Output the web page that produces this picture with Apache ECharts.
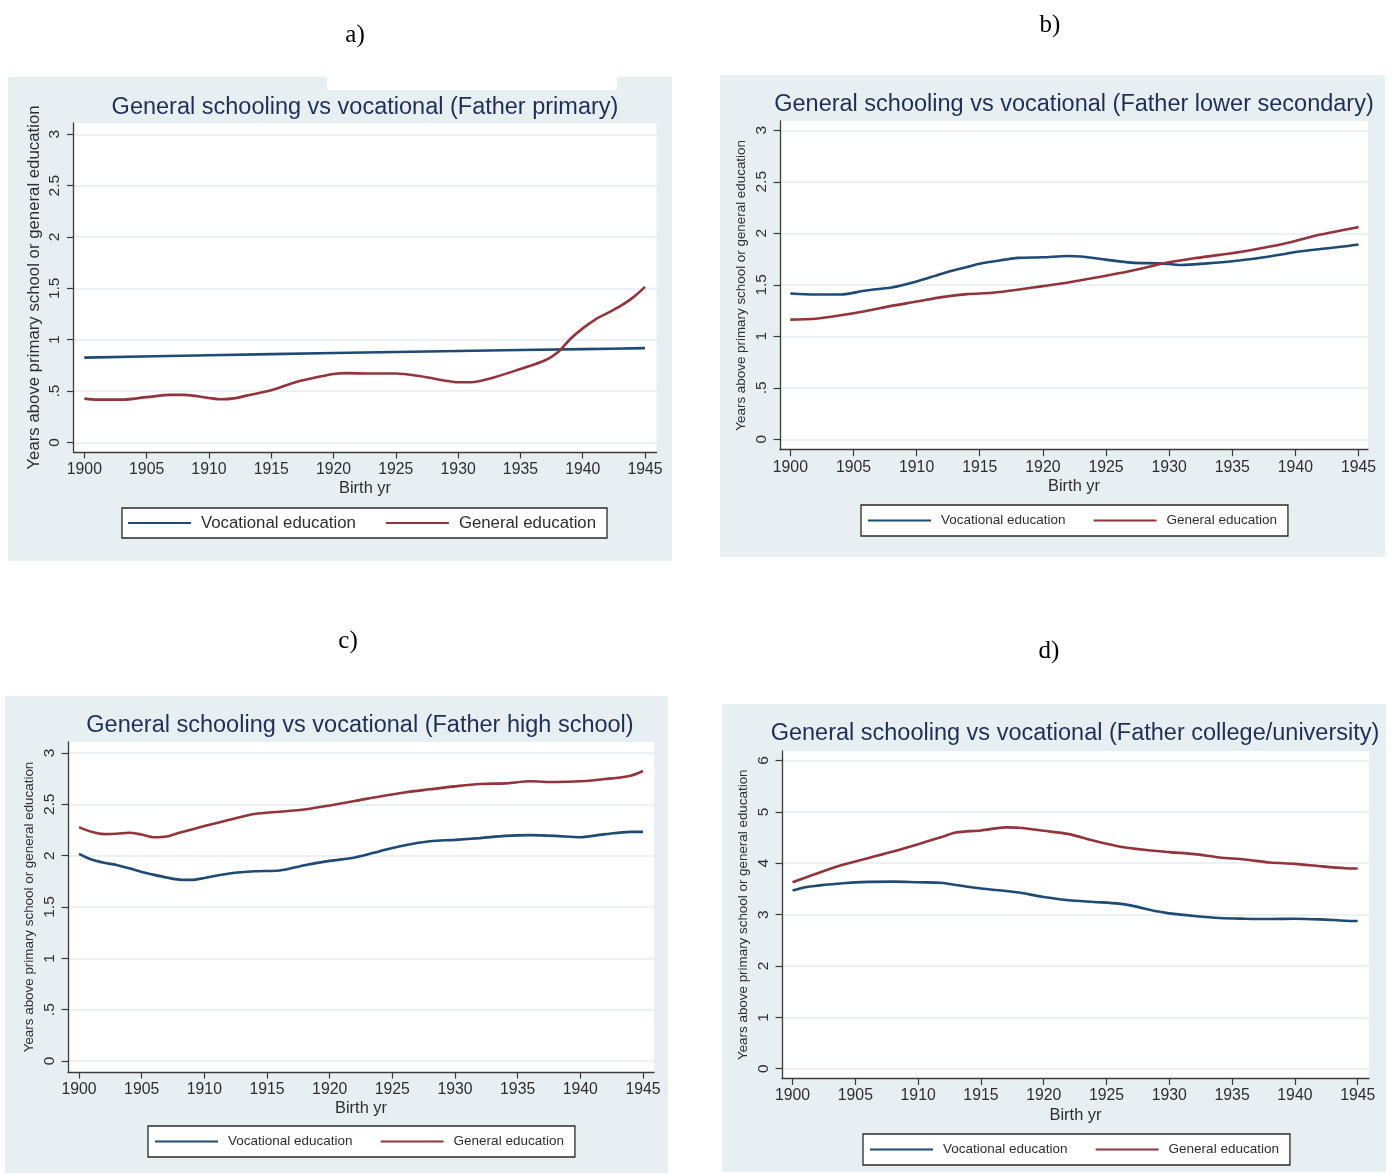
<!DOCTYPE html>
<html>
<head>
<meta charset="utf-8">
<title>General schooling vs vocational</title>
<script src="https://cdn.jsdelivr.net/npm/echarts@6/dist/echarts.min.js"></script>
<style>
  html, body { margin: 0; padding: 0; background: #ffffff; }
  #chart { width: 1399px; height: 1174px; }
</style>
</head>
<body>
<div id="chart"></div>
<script>
// ---- Text ----
const panelLabels = ['a)', 'b)', 'c)', 'd)'];
const panelTitles = [
  'General schooling vs vocational (Father primary)',
  'General schooling vs vocational (Father lower secondary)',
  'General schooling vs vocational (Father high school)',
  'General schooling vs vocational (Father college/university)'
];
const seriesNames = ['Vocational education', 'General education'];
const xAxisTitle = 'Birth yr';
const yAxisTitle = 'Years above primary school or general education';

// ---- Tick values ----
const yearTicks = [1900, 1905, 1910, 1915, 1920, 1925, 1930, 1935, 1940, 1945];
const yTicksHalf = [0, 0.5, 1, 1.5, 2, 2.5, 3];
const yTicksWhole = [0, 1, 2, 3, 4, 5, 6];

// ---- a) Father primary ----
const vocYearsA = [1900, 1910, 1920, 1930, 1940, 1945];
const vocA      = [0.825, 0.848, 0.870, 0.890, 0.908, 0.918];
const genYearsA = [1900, 1901, 1903, 1905, 1907, 1908, 1910, 1911, 1912, 1913, 1915, 1917, 1919, 1920, 1921, 1923, 1925, 1927, 1929, 1930, 1931, 1933, 1935, 1937, 1938, 1939, 1940, 1941, 1942, 1943, 1944, 1945];
const genA      = [0.426, 0.416, 0.416, 0.440, 0.462, 0.462, 0.432, 0.420, 0.428, 0.455, 0.507, 0.588, 0.643, 0.666, 0.674, 0.670, 0.670, 0.643, 0.600, 0.585, 0.585, 0.637, 0.715, 0.800, 0.877, 1.007, 1.110, 1.196, 1.260, 1.326, 1.407, 1.514];

// ---- b) Father lower secondary ----
const vocYearsB = [1900, 1902, 1904, 1906, 1908, 1910, 1912, 1914, 1915, 1917, 1918, 1920, 1922, 1923, 1925, 1927, 1929, 1930, 1931, 1933, 1935, 1937, 1939, 1940, 1942, 1944, 1945];
const vocB      = [1.416, 1.406, 1.406, 1.445, 1.474, 1.533, 1.608, 1.673, 1.705, 1.744, 1.761, 1.767, 1.780, 1.774, 1.744, 1.715, 1.708, 1.702, 1.692, 1.708, 1.728, 1.757, 1.796, 1.819, 1.848, 1.874, 1.891];
const genYearsB = [1900, 1902, 1904, 1906, 1908, 1910, 1912, 1914, 1916, 1918, 1920, 1922, 1924, 1926, 1928, 1930, 1932, 1934, 1936, 1938, 1940, 1942, 1944, 1945];
const genB      = [1.162, 1.171, 1.204, 1.246, 1.295, 1.337, 1.380, 1.409, 1.422, 1.451, 1.487, 1.523, 1.565, 1.611, 1.663, 1.718, 1.757, 1.790, 1.826, 1.871, 1.926, 1.988, 2.037, 2.060];

// ---- c) Father high school ----
const vocYearsC = [1900, 1901, 1902, 1903, 1904, 1905, 1906, 1907, 1908, 1909, 1910, 1912, 1914, 1916, 1918, 1920, 1922, 1924, 1926, 1928, 1930, 1932, 1934, 1936, 1938, 1940, 1942, 1944, 1945];
const vocC      = [2.018, 1.962, 1.930, 1.910, 1.877, 1.842, 1.813, 1.787, 1.767, 1.764, 1.783, 1.826, 1.848, 1.855, 1.907, 1.949, 1.982, 2.044, 2.102, 2.141, 2.154, 2.171, 2.193, 2.200, 2.193, 2.180, 2.210, 2.232, 2.232];
const genYearsC = [1900, 1901, 1902, 1903, 1904, 1905, 1906, 1907, 1908, 1910, 1912, 1914, 1916, 1918, 1920, 1922, 1924, 1926, 1928, 1930, 1932, 1934, 1936, 1938, 1940, 1942, 1944, 1945];
const genC      = [2.278, 2.232, 2.210, 2.213, 2.223, 2.206, 2.180, 2.187, 2.223, 2.288, 2.349, 2.405, 2.428, 2.450, 2.489, 2.532, 2.577, 2.616, 2.646, 2.675, 2.698, 2.704, 2.724, 2.717, 2.724, 2.746, 2.779, 2.825];

// ---- d) Father college/university ----
const vocYearsD = [1900, 1901, 1902, 1904, 1906, 1908, 1910, 1912, 1913, 1915, 1917, 1918, 1920, 1922, 1924, 1926, 1927, 1929, 1930, 1932, 1934, 1936, 1938, 1940, 1942, 1944, 1945];
const vocD      = [3.468, 3.533, 3.565, 3.611, 3.637, 3.643, 3.630, 3.617, 3.578, 3.507, 3.461, 3.429, 3.344, 3.279, 3.247, 3.214, 3.175, 3.064, 3.025, 2.973, 2.934, 2.921, 2.915, 2.921, 2.908, 2.882, 2.876];
const genYearsD = [1900, 1902, 1904, 1906, 1908, 1910, 1912, 1913, 1915, 1917, 1918, 1920, 1922, 1924, 1926, 1928, 1930, 1932, 1934, 1936, 1938, 1940, 1942, 1944, 1945];
const genD      = [3.630, 3.806, 3.969, 4.099, 4.229, 4.372, 4.522, 4.600, 4.639, 4.698, 4.691, 4.632, 4.567, 4.437, 4.327, 4.262, 4.216, 4.177, 4.112, 4.073, 4.014, 3.988, 3.943, 3.904, 3.897];

// ---- Styling ----
const panelBg = '#e8eff3';
const gridLineColor = '#e6edf1';
const axisColor = '#3a3a3a';
const textColor = '#2e2e2e';
const titleColor = '#1f2e55';
const vocColor = '#1f4a74';
const genColor = '#93343c';
const sansFont = '"Liberation Sans", Arial, sans-serif';
const serifFont = '"Liberation Serif", "Times New Roman", serif';

// Panel geometry: outer box, plot box (pixel edges), axis extents, text anchors
const panels = [
  { box: [8, 77, 664, 484], plot: { l: 73.5, t: 123, r: 656.5, b: 452 },
    xr: [1899.13, 1945.92], yr: [-0.094, 3.11], yTicks: yTicksHalf,
    title: [365, 108], label: [355, 35], legend: [122, 508], big: true },
  { box: [720, 75, 665, 482], plot: { l: 780, t: 121, r: 1368, b: 449.7 },
    xr: [1899.18, 1945.75], yr: [-0.101, 3.09], yTicks: yTicksHalf,
    title: [1074, 105], label: [1050, 25], legend: [861, 505], big: false },
  { box: [5, 696, 663, 477], plot: { l: 68, t: 742, r: 654, b: 1072 },
    xr: [1899.12, 1945.88], yr: [-0.107, 3.107], yTicks: yTicksHalf,
    title: [360, 726], label: [348, 641], legend: [148, 1126], big: false },
  { box: [722, 704, 664, 468], plot: { l: 782, t: 751, r: 1369, b: 1078.5 },
    xr: [1899.16, 1945.9], yr: [-0.19, 6.185], yTicks: yTicksWhole,
    title: [1075, 734], label: [1049, 651], legend: [863, 1134], big: false }
];

const seriesData = [
  [[vocYearsA, vocA], [genYearsA, genA]],
  [[vocYearsB, vocB], [genYearsB, genB]],
  [[vocYearsC, vocC], [genYearsC, genC]],
  [[vocYearsD, vocD], [genYearsD, genD]]
];

function zip(xs, ys) { return xs.map((x, i) => [x, ys[i]]); }
function tickText(v) {
  if (v === 0) return '0';
  return String(v).replace(/^0\./, '.');
}

const W = 1399, H = 1174;
const grids = [], xAxes = [], yAxes = [], series = [], legends = [], graphics = [];

panels.forEach((p, i) => {
  // outer panel background
  graphics.push({ type: 'rect', z: -10, silent: true,
    shape: { x: p.box[0], y: p.box[1], width: p.box[2], height: p.box[3] },
    style: { fill: panelBg } });

  grids.push({
    left: p.plot.l, top: p.plot.t,
    width: p.plot.r - p.plot.l, height: p.plot.b - p.plot.t,
    show: true, backgroundColor: '#ffffff', borderWidth: 0,
    containLabel: false, outerBoundsMode: 'none'
  });

  xAxes.push({
    type: 'value', gridIndex: i, min: p.xr[0], max: p.xr[1],
    name: xAxisTitle, nameLocation: 'middle', nameGap: 28.5, nameMoveOverlap: false,
    nameTextStyle: { fontFamily: sansFont, fontSize: 16.4, color: textColor },
    axisLine: { show: true, onZero: false, lineStyle: { color: axisColor, width: 1.3 } },
    axisTick: { show: true, length: 6.5, customValues: yearTicks, lineStyle: { color: axisColor, width: 1.2 } },
    axisLabel: { show: true, customValues: yearTicks, margin: 9.5, formatter: v => String(v),
      fontFamily: sansFont, fontSize: 15.8, color: textColor },
    splitLine: { show: false }
  });

  yAxes.push({
    type: 'value', gridIndex: i, min: p.yr[0], max: p.yr[1],
    name: yAxisTitle, nameLocation: 'middle', nameRotate: 90, nameMoveOverlap: false,
    nameGap: p.big ? 31 : 32,
    nameTextStyle: { fontFamily: sansFont, fontSize: p.big ? 16.8 : 13.4, color: textColor },
    axisLine: { show: true, onZero: false, lineStyle: { color: axisColor, width: 1.3 } },
    axisTick: { show: true, length: 6.5, customValues: p.yTicks, lineStyle: { color: axisColor, width: 1.2 } },
    axisLabel: { show: true, customValues: p.yTicks, rotate: 90, margin: 10.5, formatter: tickText,
      fontFamily: sansFont, fontSize: 15.5, color: textColor },
    splitLine: { show: true, lineStyle: { color: gridLineColor, width: 1.5 } }
  });

  seriesData[i].forEach((pair, k) => {
    series.push({
      type: 'line', name: seriesNames[k], xAxisIndex: i, yAxisIndex: i,
      data: zip(pair[0], pair[1]),
      showSymbol: false, smooth: 0.3, silent: true,
      lineStyle: { color: k === 0 ? vocColor : genColor, width: 2.6 },
      itemStyle: { color: k === 0 ? vocColor : genColor },
      emphasis: { disabled: true }
    });
  });

  const fs = p.big ? 16.8 : 13.5;
  legends.push({
    left: p.legend[0], top: p.legend[1],
    orient: 'horizontal', data: seriesNames, selectedMode: false,
    icon: 'rect', itemWidth: 63, itemHeight: 2, itemGap: p.big ? 30 : 28,
    backgroundColor: '#ffffff', borderColor: '#2a2a2a', borderWidth: 1.3, borderRadius: 0,
    padding: p.big ? [6.5, 11, 6.5, 6] : [8.5, 11, 8.5, 7],
    textStyle: { fontFamily: sansFont, fontSize: fs, color: textColor, padding: [0, 0, 0, 5] }
  });

  // title and panel label
  graphics.push({ type: 'text', z: 10, silent: true,
    x: p.title[0], y: p.title[1],
    style: { text: panelTitles[i], font: '23.5px ' + sansFont, fill: titleColor,
      textAlign: 'center', textVerticalAlign: 'middle' } });
  graphics.push({ type: 'text', z: 10, silent: true,
    x: p.label[0], y: p.label[1],
    style: { text: panelLabels[i], font: '25px ' + serifFont, fill: '#000000',
      textAlign: 'center', textVerticalAlign: 'middle' } });
});

// white notch along the top edge of panel a
graphics.push({ type: 'rect', z: -9, silent: true,
  shape: { x: 327, y: 77, width: 290, height: 13 }, style: { fill: '#ffffff' } });

const chart = echarts.init(document.getElementById('chart'), null, { renderer: 'canvas', width: W, height: H });
chart.setOption({
  animation: false,
  backgroundColor: '#ffffff',
  grid: grids,
  xAxis: xAxes,
  yAxis: yAxes,
  legend: legends,
  series: series,
  graphic: graphics
});
</script>
</body>
</html>
